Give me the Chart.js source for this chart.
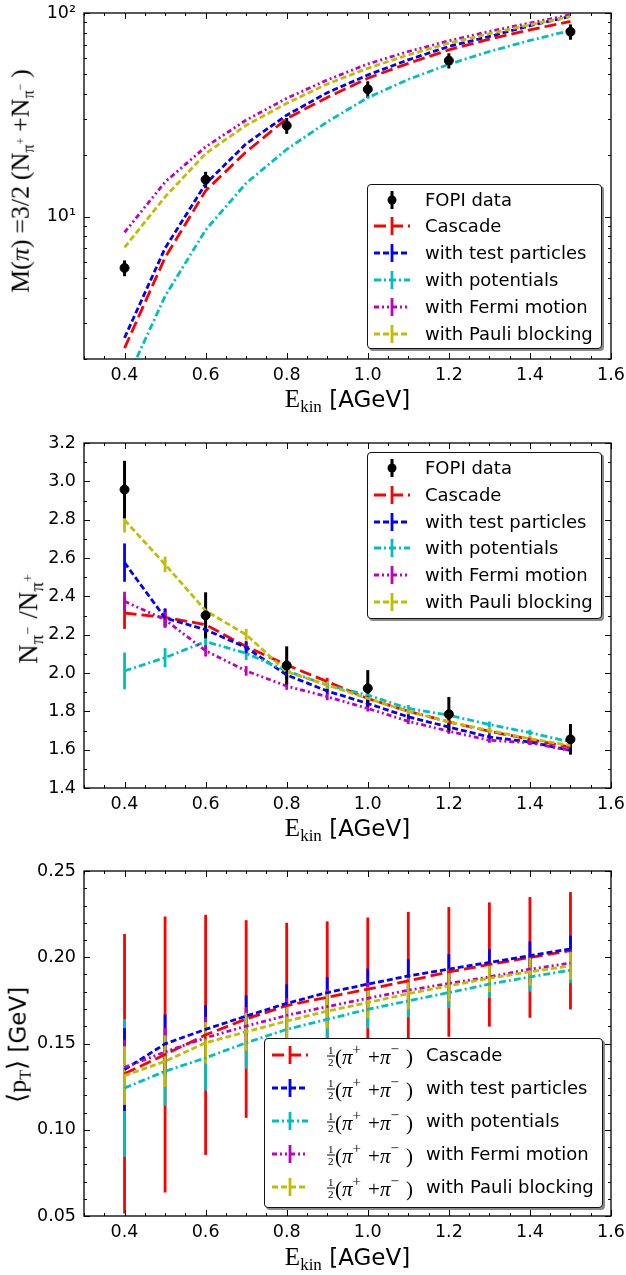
<!DOCTYPE html>
<html>
<head>
<meta charset="utf-8">
<script src="https://cdn.jsdelivr.net/npm/chart.js@4.4.1/dist/chart.umd.min.js"></script>
<style>
  html, body { margin:0; padding:0; background:#fff; }
  body { width:626px; height:1275px; position:relative; overflow:hidden; font-family:"DejaVu Sans", sans-serif; color:#000; }
  canvas { position:absolute; left:0; }
  .serif { font-family:"Liberation Serif", "DejaVu Serif", serif; }
  .xtitle { position:absolute; white-space:nowrap; line-height:1; transform:translateX(-50%); font-size:23px; }
  .ytitle { position:absolute; white-space:nowrap; line-height:1; transform:translate(-50%,-50%) rotate(-90deg); font-size:23px; }
  .sb { font-size:0.62em; vertical-align:-0.28em; }
  .sb2 { font-size:0.7em; vertical-align:-0.3em; }
  .sp { font-size:0.75em; vertical-align:0.75em; }
  .gap { margin-left:0.3em; }
  .gap2 { margin-left:0.22em; }
  .legend { position:absolute; background:#fff; border:1px solid #111; border-radius:4px; box-shadow:2px 2px 0 #8a8a8a; }
  .legend svg { position:absolute; overflow:visible; }
  .legend .lt { position:absolute; white-space:nowrap; line-height:1; font-size:18px; transform:translateY(-50%); }
  .frac { position:absolute; display:flex; flex-direction:column; align-items:center; font-size:11px; line-height:1; transform:translateY(-50%); font-family:"Liberation Serif", serif; }
  .frac .num { border-bottom:1px solid #000; padding:0 1px; }
  .mth { position:absolute; white-space:nowrap; line-height:1; font-size:21px; transform:translateY(-50%); }
  .mth .s { font-size:0.72em; vertical-align:0.6em; margin-right:7px; }
</style>
</head>
<body>
<canvas id="c1" width="626" height="420" style="top:0px"></canvas>
<canvas id="c2" width="626" height="420" style="top:420px"></canvas>
<canvas id="c3" width="626" height="435" style="top:840px"></canvas>

<div class="ytitle serif" style="left:22px; top:181px; font-size:26px;">M(<i>π</i>)<span class="gap2">=3/2</span><span class="gap2">(N<span class="sb">π<span class="sp">+</span></span></span><span class="gap2">+N<span class="sb">π<span class="sp">−</span></span></span><span class="gap2">)</span></div>
<div class="ytitle serif" style="left:31px; top:619px; font-size:27px;">N<span class="sb2">π<span class="sp">−</span></span><span class="gap">/N<span class="sb2">π<span class="sp">+</span></span></span></div>
<div class="ytitle" style="left:19px; top:1045px;"><span class="serif" style="font-size:26px;">⟨p<span class="sb">T</span>⟩</span> [GeV]</div>

<div class="xtitle" style="left:347.5px; top:386px;"><span class="serif" style="font-size:25px;">E<span style="font-size:17px; vertical-align:-0.3em;">kin</span></span> [AGeV]</div>
<div class="xtitle" style="left:347.5px; top:815px;"><span class="serif" style="font-size:25px;">E<span style="font-size:17px; vertical-align:-0.3em;">kin</span></span> [AGeV]</div>
<div class="xtitle" style="left:347.5px; top:1244px;"><span class="serif" style="font-size:25px;">E<span style="font-size:17px; vertical-align:-0.3em;">kin</span></span> [AGeV]</div>

<div id="leg1" class="legend" style="left:367px; top:184px; width:233px; height:163px;"></div>
<div id="leg2" class="legend" style="left:367px; top:452px; width:233px; height:165px;"></div>
<div id="leg3" class="legend" style="left:264px; top:1038px; width:337px; height:168px;"></div>

<script>
// ---------------- data ----------------
const energies = [0.4, 0.5, 0.6, 0.7, 0.8, 0.9, 1.0, 1.1, 1.2, 1.3, 1.4, 1.5];
const fopiEnergies = [0.4, 0.6, 0.8, 1.0, 1.2, 1.5];

const seriesNames = ['Cascade', 'with test particles', 'with potentials', 'with Fermi motion', 'with Pauli blocking'];
const dataName = 'FOPI data';

// Panel 1: pion multiplicity M(pi)
const multFopi = [5.6, 15.2, 28.0, 42.2, 58.4, 80.9];
const multFopiErr = [0.5, 1.4, 2.5, 4.0, 5.0, 7.0];
const multCascade = [2.26, 6.3, 13.4, 20.8, 30.3, 38.5, 47.8, 56.6, 65.9, 74.4, 82.7, 91.0];
const multTest = [2.54, 7.0, 14.5, 22.8, 31.5, 40.6, 49.6, 58.9, 68.5, 76.7, 86.6, 96.3];
const multPot = [1.5, 4.07, 8.6, 14.6, 21.4, 29.2, 38.4, 47.2, 56.0, 64.7, 73.3, 82.1];
const multFermi = [8.37, 14.8, 22.0, 29.8, 38.1, 46.9, 56.2, 64.7, 73.0, 81.2, 89.3, 98.0];
const multPauli = [7.06, 12.5, 20.4, 28.1, 36.0, 44.8, 53.5, 62.3, 71.1, 79.1, 87.6, 96.0];

// Panel 2: N(pi-)/N(pi+) ratio
const ratioFopi = [2.957, 2.301, 2.039, 1.92, 1.785, 1.654];
const ratioFopiErr = [0.15, 0.12, 0.10, 0.095, 0.09, 0.08];
const ratioCascade = [2.313, 2.29, 2.252, 2.138, 2.042, 1.955, 1.867, 1.80, 1.745, 1.696, 1.654, 1.613];
const ratioCascadeErr = [0.083, 0.045, 0.035, 0.03, 0.025, 0.02, 0.02, 0.018, 0.017, 0.016, 0.015, 0.015];
const ratioTest = [2.576, 2.287, 2.226, 2.133, 1.99, 1.906, 1.841, 1.771, 1.718, 1.666, 1.64, 1.596];
const ratioTestErr = [0.10, 0.05, 0.04, 0.03, 0.025, 0.02, 0.02, 0.018, 0.016, 0.015, 0.015, 0.014];
const ratioPot = [2.011, 2.08, 2.164, 2.103, 2.011, 1.937, 1.885, 1.815, 1.78, 1.731, 1.689, 1.64];
const ratioPotErr = [0.096, 0.05, 0.04, 0.035, 0.03, 0.022, 0.02, 0.018, 0.017, 0.016, 0.015, 0.014];
const ratioFermi = [2.374, 2.278, 2.116, 2.011, 1.932, 1.876, 1.815, 1.748, 1.696, 1.649, 1.636, 1.596];
const ratioFermiErr = [0.05, 0.04, 0.03, 0.025, 0.02, 0.018, 0.016, 0.015, 0.014, 0.013, 0.012, 0.012];
const ratioPauli = [2.798, 2.567, 2.325, 2.2, 2.007, 1.937, 1.867, 1.80, 1.745, 1.70, 1.657, 1.622];
const ratioPauliErr = [0.065, 0.04, 0.035, 0.03, 0.025, 0.02, 0.018, 0.016, 0.015, 0.014, 0.013, 0.013];

// Panel 3: mean transverse momentum <pT> [GeV]
const ptCascade = [0.1325, 0.1436, 0.155, 0.1642, 0.172, 0.1768, 0.1815, 0.1863, 0.1915, 0.1958, 0.1999, 0.2038];
const ptCascadeErr = [0.081, 0.080, 0.0696, 0.0573, 0.048, 0.044, 0.0415, 0.040, 0.0376, 0.036, 0.035, 0.034];
const ptTest = [0.1349, 0.1498, 0.1582, 0.1659, 0.1733, 0.1795, 0.1844, 0.1892, 0.1931, 0.197, 0.2009, 0.2048];
const ptTestErr = [0.024, 0.017, 0.014, 0.012, 0.011, 0.009, 0.009, 0.0097, 0.0087, 0.0078, 0.0083, 0.0077];
const ptPot = [0.1242, 0.1339, 0.1417, 0.1504, 0.1582, 0.164, 0.1698, 0.1747, 0.1795, 0.1844, 0.1886, 0.1925];
const ptPotErr = [0.040, 0.020, 0.019, 0.015, 0.013, 0.011, 0.011, 0.0095, 0.009, 0.008, 0.0085, 0.0075];
const ptFermi = [0.1362, 0.1451, 0.1533, 0.1601, 0.1663, 0.1714, 0.1762, 0.1809, 0.1848, 0.1886, 0.1931, 0.1966];
const ptFermiErr = [0.016, 0.014, 0.012, 0.011, 0.010, 0.010, 0.009, 0.009, 0.009, 0.008, 0.008, 0.008];
const ptPauli = [0.1314, 0.1397, 0.1504, 0.1568, 0.163, 0.1688, 0.1737, 0.1789, 0.1834, 0.1878, 0.1916, 0.195];
const ptPauliErr = [0.017, 0.015, 0.012, 0.011, 0.010, 0.010, 0.009, 0.009, 0.009, 0.008, 0.008, 0.008];

// ---------------- ticks ----------------
const xMajorTicks = [0.4, 0.6, 0.8, 1.0, 1.2, 1.4, 1.6];
const xTickLabels = ['0.4', '0.6', '0.8', '1.0', '1.2', '1.4', '1.6'];
const xMinorTicks = [0.3, 0.35, 0.45, 0.5, 0.55, 0.65, 0.7, 0.75, 0.85, 0.9, 0.95, 1.05, 1.1, 1.15, 1.25, 1.3, 1.35, 1.45, 1.5, 1.55];

const y1MajorTicks = [10, 100];
const y1TickLabels = ['10¹', '10²'];
const y1MinorTicks = [2, 3, 4, 5, 6, 7, 8, 9, 20, 30, 40, 50, 60, 70, 80, 90];

const y2MajorTicks = [1.4, 1.6, 1.8, 2.0, 2.2, 2.4, 2.6, 2.8, 3.0, 3.2];
const y2TickLabels = ['1.4', '1.6', '1.8', '2.0', '2.2', '2.4', '2.6', '2.8', '3.0', '3.2'];
const y2MinorTicks = [1.5, 1.7, 1.9, 2.1, 2.3, 2.5, 2.7, 2.9, 3.1];

const y3MajorTicks = [0.05, 0.10, 0.15, 0.20, 0.25];
const y3TickLabels = ['0.05', '0.10', '0.15', '0.20', '0.25'];
const y3MinorTicks = [0.06, 0.07, 0.08, 0.09, 0.11, 0.12, 0.13, 0.14, 0.16, 0.17, 0.18, 0.19, 0.21, 0.22, 0.23, 0.24];

// ---------------- styles ----------------
const colors = ['#ff0000', '#0000ff', '#00bfbf', '#bf00bf', '#bfbf00'];
const dashes = [[12, 5], [6, 3], [7, 3, 2, 3], [5, 3, 2, 3, 2, 3], [6, 3]];
const errOrder = [0, 2, 1, 3, 4];
const LW = 2.8;

Chart.defaults.font.family = '"DejaVu Sans", sans-serif';
Chart.defaults.color = '#000';

function pts(xs, ys) { return xs.map((x, i) => ({ x: x, y: ys[i] })); }
function labelFor(majors, labels) {
  return function (v) {
    for (let i = 0; i < majors.length; i++) if (Math.abs(majors[i] - v) < 1e-9) return labels[i];
    return '';
  };
}

const frameTicks = {
  id: 'frameTicks',
  afterDraw(chart, args, o) {
    const { ctx, chartArea: a } = chart;
    const xs = chart.scales.x, ys = chart.scales.y;
    ctx.save();
    ctx.strokeStyle = '#000';
    ctx.lineWidth = 1;
    const seg = (x1, y1, x2, y2) => { ctx.beginPath(); ctx.moveTo(x1, y1); ctx.lineTo(x2, y2); ctx.stroke(); };
    const xt = (vals, len) => vals.forEach(v => {
      const p = Math.round(xs.getPixelForValue(v)) + 0.5;
      seg(p, a.bottom, p, a.bottom - len); seg(p, a.top, p, a.top + len);
    });
    const yt = (vals, len) => vals.forEach(v => {
      const p = Math.round(ys.getPixelForValue(v)) + 0.5;
      seg(a.left, p, a.left + len, p); seg(a.right, p, a.right - len, p);
    });
    xt(o.xMajor, 6); xt(o.xMinor, 3);
    yt(o.yMajor, 6); yt(o.yMinor, 3);
    ctx.lineWidth = 1.3;
    ctx.strokeRect(a.left, a.top, a.right - a.left, a.bottom - a.top);
    ctx.restore();
  }
};

const errorBars = {
  id: 'errorBars',
  beforeDatasetsDraw(chart) {
    const { ctx, chartArea: a } = chart;
    const xs = chart.scales.x, ys = chart.scales.y;
    ctx.save();
    ctx.beginPath(); ctx.rect(a.left, a.top, a.right - a.left, a.bottom - a.top); ctx.clip();
    const list = chart.data.datasets.filter(d => d.errors).sort((p, q) => (p.errLayer || 0) - (q.errLayer || 0));
    list.forEach(ds => {
      ctx.strokeStyle = ds.errColor || ds.borderColor;
      ctx.lineWidth = ds.errWidth || LW;
      ds.data.forEach((pt, i) => {
        const e = ds.errors[i];
        if (!e) return;
        const px = xs.getPixelForValue(pt.x);
        ctx.beginPath();
        ctx.moveTo(px, ys.getPixelForValue(pt.y - e));
        ctx.lineTo(px, ys.getPixelForValue(pt.y + e));
        ctx.stroke();
      });
    });
    ctx.restore();
  }
};

function makeChart(id, p) {
  const datasets = [];
  if (p.fopi) {
    datasets.push({
      label: dataName, data: pts(fopiEnergies, p.fopi), errors: p.fopiErr,
      showLine: false, pointRadius: 4.5, pointBackgroundColor: '#000', pointBorderColor: '#000',
      borderColor: '#000', errColor: '#000', errWidth: 3, errLayer: 10, order: 0
    });
  }
  p.models.forEach((m, k) => {
    datasets.push({
      label: seriesNames[k], data: pts(energies, m), errors: p.modelErr ? p.modelErr[k] : null,
      borderColor: colors[k], borderWidth: LW, borderDash: dashes[k], pointRadius: 0,
      fill: false, tension: 0, clip: 1, order: 5 - k, errLayer: errOrder[k]
    });
  });
  return new Chart(document.getElementById(id), {
    type: 'line',
    data: { datasets: datasets },
    plugins: [errorBars, frameTicks],
    options: {
      responsive: false, animation: false, events: [],
      layout: { padding: { top: p.padTop, right: 15, left: 0, bottom: 0 } },
      plugins: {
        legend: { display: false }, tooltip: { enabled: false },
        frameTicks: { xMajor: xMajorTicks, xMinor: xMinorTicks, yMajor: p.yMajor, yMinor: p.yMinor }
      },
      scales: {
        x: {
          type: 'linear', min: 0.3, max: 1.6, bounds: 'data',
          grid: { display: false, drawTicks: false }, border: { display: false },
          ticks: { autoSkip: false, maxRotation: 0, padding: 6, font: { size: 17.5 }, color: '#000',
                   callback: labelFor(xMajorTicks, xTickLabels) },
          afterBuildTicks: s => { s.ticks = xMajorTicks.concat(xMinorTicks).sort((u, v) => u - v).map(v => ({ value: v })); },
          afterFit: s => { s.height = p.xHeight; s.paddingLeft = 0; s.paddingRight = 0; }
        },
        y: {
          type: p.yType, min: p.yMin, max: p.yMax, bounds: 'data',
          grid: { display: false, drawTicks: false }, border: { display: false },
          ticks: { autoSkip: false, padding: 8, font: { size: 17.5 }, color: '#000',
                   callback: labelFor(p.yMajor, p.yLabels) },
          afterBuildTicks: s => { s.ticks = p.yMajor.concat(p.yMinor).sort((u, v) => u - v).map(v => ({ value: v })); },
          afterFit: s => { s.width = 84; s.paddingTop = 0; s.paddingBottom = 0; }
        }
      }
    }
  });
}

makeChart('c1', {
  fopi: multFopi, fopiErr: multFopiErr,
  models: [multCascade, multTest, multPot, multFermi, multPauli], modelErr: null,
  yType: 'logarithmic', yMin: 2, yMax: 100,
  yMajor: y1MajorTicks, yMinor: y1MinorTicks, yLabels: y1TickLabels,
  padTop: 13, xHeight: 61
});
makeChart('c2', {
  fopi: ratioFopi, fopiErr: ratioFopiErr,
  models: [ratioCascade, ratioTest, ratioPot, ratioFermi, ratioPauli],
  modelErr: [ratioCascadeErr, ratioTestErr, ratioPotErr, ratioFermiErr, ratioPauliErr],
  yType: 'linear', yMin: 1.4, yMax: 3.2,
  yMajor: y2MajorTicks, yMinor: y2MinorTicks, yLabels: y2TickLabels,
  padTop: 23, xHeight: 52
});
makeChart('c3', {
  fopi: null,
  models: [ptCascade, ptTest, ptPot, ptFermi, ptPauli],
  modelErr: [ptCascadeErr, ptTestErr, ptPotErr, ptFermiErr, ptPauliErr],
  yType: 'linear', yMin: 0.05, yMax: 0.25,
  yMajor: y3MajorTicks, yMinor: y3MinorTicks, yLabels: y3TickLabels,
  padTop: 31, xHeight: 59
});

// ---------------- legends (HTML) ----------------
const SVGNS = 'http://www.w3.org/2000/svg';
function sample(k, x0, len, yc) {
  const svg = document.createElementNS(SVGNS, 'svg');
  svg.setAttribute('width', len); svg.setAttribute('height', 20);
  svg.style.left = x0 + 'px'; svg.style.top = (yc - 10) + 'px';
  const mk = (a) => { const e = document.createElementNS(SVGNS, 'line'); for (const key in a) e.setAttribute(key, a[key]); svg.appendChild(e); };
  if (k < 0) {
    mk({ x1: len / 2, y1: 1, x2: len / 2, y2: 19, stroke: '#000', 'stroke-width': 3 });
    const c = document.createElementNS(SVGNS, 'circle');
    c.setAttribute('cx', len / 2); c.setAttribute('cy', 10); c.setAttribute('r', 4.5); c.setAttribute('fill', '#000');
    svg.appendChild(c);
  } else {
    mk({ x1: 0, y1: 10, x2: len, y2: 10, stroke: colors[k], 'stroke-width': LW, 'stroke-dasharray': dashes[k].join(' ') });
    mk({ x1: len / 2, y1: 1, x2: len / 2, y2: 19, stroke: colors[k], 'stroke-width': LW });
  }
  return svg;
}
function textAt(parent, cls, x, y, html) {
  const d = document.createElement('div');
  d.className = cls; d.style.left = x + 'px'; d.style.top = y + 'px';
  d.innerHTML = html; parent.appendChild(d); return d;
}
function buildLegend(id, withData, rowTop, rowStep) {
  const el = document.getElementById(id);
  let r = 0;
  if (withData) {
    el.appendChild(sample(-1, 6, 36, rowTop));
    textAt(el, 'lt', 57, rowTop, dataName);
    r = 1;
  }
  seriesNames.forEach((n, k) => {
    const y = rowTop + rowStep * (r + k);
    el.appendChild(sample(k, 6, 36, y));
    textAt(el, 'lt', 57, y, n);
  });
}
buildLegend('leg1', true, 14.5, 26.8);
buildLegend('leg2', true, 15, 26.8);

(function () {
  const el = document.getElementById('leg3');
  seriesNames.forEach((n, k) => {
    const y = 16 + 33 * k;
    el.appendChild(sample(k, 7, 36, y));
    textAt(el, 'frac', 62, y + 1, '<span class="num">1</span><span>2</span>');
    textAt(el, 'mth serif', 70, y, '(<i>π</i><span class="s">+</span>+<i>π</i><span class="s">−</span>)');
    textAt(el, 'lt', 161, y, n);
  });
})();
</script>
</body>
</html>
